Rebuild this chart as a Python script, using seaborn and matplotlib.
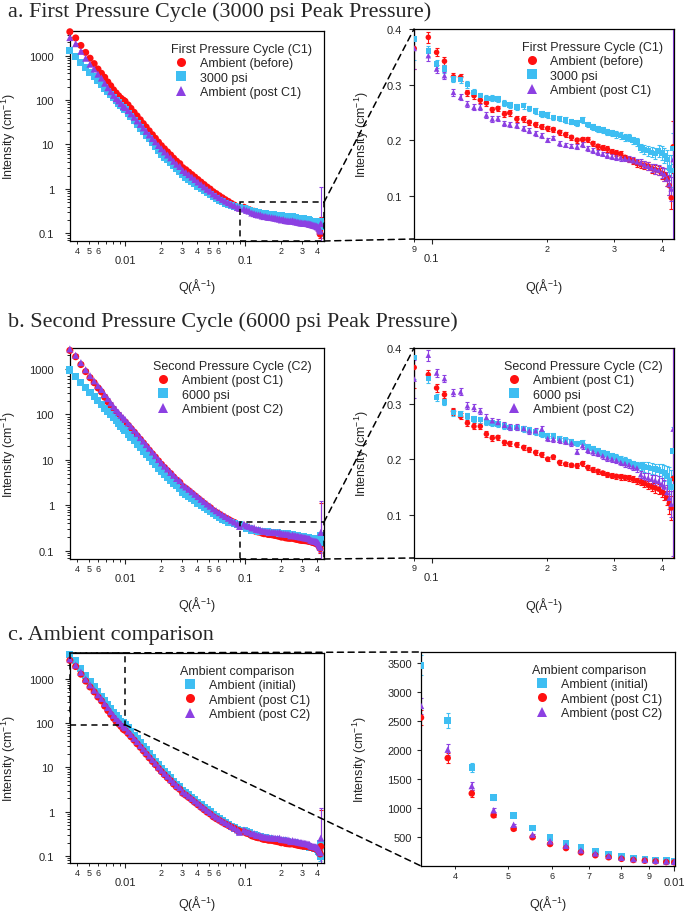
import numpy as np
import pandas as pd
import matplotlib
matplotlib.use("Agg")
import matplotlib.pyplot as plt
import seaborn as sns
from matplotlib.lines import Line2D
from matplotlib.patches import ConnectionPatch, Rectangle
from matplotlib.ticker import LogLocator, FuncFormatter, NullFormatter, MultipleLocator

# ---------------- data ----------------
q_low = [0.00347, 0.00388, 0.00429, 0.00470, 0.00511, 0.00553, 0.00595, 0.00636, 0.00677,
         0.00719, 0.00760, 0.00802, 0.00843, 0.00884, 0.00925, 0.00967, 0.0100]
q_mid = [0.0106, 0.0112, 0.0119, 0.0126, 0.0134, 0.0142, 0.0150, 0.0159, 0.0169, 0.0179,
         0.0190, 0.0201, 0.0213, 0.0226, 0.0240, 0.0254, 0.0269, 0.0286, 0.0303, 0.0321,
         0.0340, 0.0361, 0.0382, 0.0405, 0.0430, 0.0456, 0.0483, 0.0512, 0.0543, 0.0575,
         0.0610, 0.0647, 0.0685, 0.0727, 0.0770, 0.0817, 0.0866]
q_high = [0.090, 0.098, 0.103, 0.108, 0.114, 0.119, 0.124, 0.129, 0.134, 0.139,
          0.144, 0.149, 0.155, 0.160, 0.167, 0.174, 0.180, 0.187, 0.194, 0.201,
          0.208, 0.216, 0.224, 0.232, 0.240, 0.248, 0.256, 0.264, 0.272, 0.280,
          0.288, 0.296, 0.304, 0.312, 0.320, 0.328, 0.336, 0.344, 0.352, 0.360,
          0.368, 0.376, 0.384, 0.392, 0.400, 0.406, 0.412, 0.418, 0.423, 0.428]

I_before = [3460, 2510, 1700, 1185, 877, 663, 500, 401, 326, 256, 210, 170, 145, 125, 110, 100, 94,
            78, 65, 53, 44, 36, 29.5, 24.7, 20.3, 16.6, 13.8, 11.3, 9.4, 8.0, 6.8, 5.8, 4.9, 4.2, 3.7,
            3.0, 2.7, 2.38, 2.09, 1.84, 1.62, 1.42, 1.25, 1.10, 0.99, 0.86, 0.78, 0.70, 0.63, 0.57,
            0.52, 0.47, 0.43, 0.39,
            0.365, 0.385, 0.358, 0.342, 0.314, 0.313, 0.285, 0.280, 0.272, 0.267,
            0.255, 0.257, 0.247, 0.249, 0.238, 0.238, 0.232, 0.228, 0.224, 0.221,
            0.219, 0.214, 0.210, 0.205, 0.200, 0.201, 0.201, 0.194, 0.189, 0.186,
            0.184, 0.179, 0.177, 0.175, 0.169, 0.165, 0.163, 0.158, 0.156, 0.155,
            0.153, 0.149, 0.147, 0.145, 0.140, 0.138, 0.130, 0.118, 0.096, 0.188]
I_3000 = [1300, 940, 700, 540, 420, 335, 272, 225, 187, 158, 134, 115, 99, 86, 76, 67, 61,
          51, 42, 35, 29, 23.5, 19.5, 16.2, 13.4, 11.0, 9.0, 7.4, 6.1, 5.2, 4.5, 3.85, 3.3, 2.85,
          2.45, 2.1, 1.85, 1.65, 1.46, 1.3, 1.15, 1.02, 0.91, 0.81, 0.73, 0.66, 0.6, 0.55, 0.51,
          0.47, 0.44, 0.415, 0.395, 0.38,
          0.382, 0.360, 0.337, 0.328, 0.310, 0.309, 0.300, 0.286, 0.280, 0.275,
          0.275, 0.274, 0.266, 0.263, 0.260, 0.262, 0.257, 0.252, 0.247, 0.245,
          0.241, 0.239, 0.236, 0.233, 0.231, 0.236, 0.228, 0.224, 0.220, 0.218,
          0.215, 0.213, 0.210, 0.208, 0.205, 0.204, 0.200, 0.197, 0.186, 0.183,
          0.181, 0.178, 0.176, 0.180, 0.177, 0.172, 0.165, 0.150, 0.145, 0.185]
I_post_c1 = [2560, 1864, 1254, 877, 645, 500, 384, 314, 240, 190, 155, 128, 108, 96, 84, 72, 68,
             58, 49, 41, 34, 28.4, 23.6, 19.8, 16.4, 13.6, 11.5, 9.5, 8.0, 6.8, 5.8, 5.0, 4.2, 3.6,
             3.2, 2.6, 2.35, 2.09, 1.84, 1.62, 1.43, 1.26, 1.11, 0.98, 0.89, 0.77, 0.70, 0.64, 0.58,
             0.53, 0.49, 0.45, 0.42, 0.38,
             0.365, 0.352, 0.328, 0.316, 0.286, 0.277, 0.265, 0.259, 0.259, 0.245,
             0.238, 0.239, 0.230, 0.228, 0.226, 0.221, 0.217, 0.212, 0.208, 0.200,
             0.204, 0.194, 0.191, 0.189, 0.188, 0.192, 0.185, 0.181, 0.178, 0.175,
             0.172, 0.170, 0.169, 0.168, 0.167, 0.166, 0.164, 0.161, 0.159, 0.156,
             0.153, 0.150, 0.148, 0.146, 0.141, 0.138, 0.130, 0.120, 0.112, 0.165]
I_6000 = [950, 687, 514, 394, 309, 246, 199, 164, 137, 115, 98, 84, 72, 63, 55, 48.6, 44,
          37, 31.4, 26.3, 22.1, 18.4, 15.5, 13.2, 11.1, 9.2, 7.8, 6.5, 5.6, 4.8, 4.15, 3.6, 3.1,
          2.7, 2.3, 1.97, 1.76, 1.57, 1.40, 1.25, 1.12, 1.0, 0.89, 0.80, 0.72, 0.65, 0.59, 0.54,
          0.50, 0.46, 0.43, 0.41, 0.39, 0.375,
          0.383, 0.345, 0.311, 0.303, 0.284, 0.281, 0.278, 0.272, 0.271, 0.266,
          0.265, 0.263, 0.260, 0.257, 0.257, 0.254, 0.252, 0.249, 0.245, 0.242,
          0.242, 0.237, 0.234, 0.231, 0.228, 0.230, 0.222, 0.219, 0.215, 0.211,
          0.209, 0.206, 0.203, 0.200, 0.197, 0.194, 0.191, 0.188, 0.188, 0.186,
          0.185, 0.183, 0.182, 0.180, 0.178, 0.175, 0.170, 0.161, 0.150, 0.215]
I_post_c2 = [2763, 2009, 1382, 964, 715, 546, 430, 355, 275, 222, 180, 148, 125, 110, 96, 85, 78,
             65, 55, 45, 38, 31, 26, 21.7, 18.1, 14.9, 12.4, 10.2, 8.6, 7.3, 6.3, 5.3, 4.6, 3.9,
             3.5, 2.8, 2.54, 2.26, 1.99, 1.75, 1.56, 1.36, 1.21, 1.07, 0.96, 0.84, 0.76, 0.69, 0.62,
             0.57, 0.52, 0.47, 0.43, 0.39,
             0.344, 0.387, 0.355, 0.345, 0.320, 0.321, 0.296, 0.293, 0.287, 0.275,
             0.269, 0.266, 0.261, 0.258, 0.258, 0.255, 0.251, 0.251, 0.254, 0.237,
             0.236, 0.234, 0.231, 0.229, 0.213, 0.224, 0.216, 0.213, 0.210, 0.206,
             0.202, 0.200, 0.198, 0.194, 0.192, 0.190, 0.186, 0.184, 0.172, 0.168,
             0.166, 0.164, 0.162, 0.160, 0.155, 0.150, 0.140, 0.130, 0.119, 0.254]

# relative uncertainties (low-q and high-q segments), last point per data set
err_low = [0.05, 0.05, 0.045, 0.035, 0.03, 0.03, 0.03, 0.03, 0.03,
           0.03, 0.03, 0.03, 0.03, 0.03, 0.03, 0.03, 0.03]
err_high = [0.10, 0.025, 0.02, 0.02, 0.02, 0.02, 0.02, 0.02, 0.02, 0.02,
            0.02, 0.02, 0.02, 0.02, 0.02, 0.02, 0.02, 0.02, 0.02, 0.02,
            0.02, 0.02, 0.02, 0.02, 0.022, 0.022, 0.022, 0.024, 0.024, 0.025,
            0.025, 0.026, 0.027, 0.028, 0.03, 0.03, 0.032, 0.035, 0.04, 0.045,
            0.05, 0.05, 0.055, 0.06, 0.07, 0.08, 0.10, 0.15, 0.20, 0.25]
err_last = {'before': 0.25, '3000': 0.15, 'post_c1': 5.7, '6000': 0.2, 'post_c2': 3.8}

RED, BLUE, PURPLE = '#FF1010', '#3EBEF2', '#8C40E2'

datasets = {'before': I_before, '3000': I_3000, 'post_c1': I_post_c1,
            '6000': I_6000, 'post_c2': I_post_c2}

panels = [
    dict(title='a. First Pressure Cycle (3000 psi Peak Pressure)',
         legend='First Pressure Cycle (C1)',
         series=[('before', 'Ambient (before)', 'o', RED),
                 ('3000', '3000 psi', 's', BLUE),
                 ('post_c1', 'Ambient (post C1)', '^', PURPLE)],
         left_ylim=(0.067, 3600), zoom='high', box_top=0.5,
         posL=[70, 32, 324, 242], posR=[414, 30, 674, 240],
         legL=(0.398, 0.945), legR=(0.414, 0.945), title_y=12),
    dict(title='b. Second Pressure Cycle (6000 psi Peak Pressure)',
         legend='Second Pressure Cycle (C2)',
         series=[('post_c1', 'Ambient (post C1)', 'o', RED),
                 ('6000', '6000 psi', 's', BLUE),
                 ('post_c2', 'Ambient (post C2)', '^', PURPLE)],
         left_ylim=(0.066, 2900), zoom='high', box_top=0.43,
         posL=[70, 349, 324, 560], posR=[414, 349, 674, 559],
         legL=(0.327, 0.945), legR=(0.346, 0.945), title_y=322),
    dict(title='c. Ambient comparison',
         legend='Ambient comparison',
         series=[('before', 'Ambient (initial)', 's', BLUE),
                 ('post_c1', 'Ambient (post C1)', 'o', RED),
                 ('post_c2', 'Ambient (post C2)', '^', PURPLE)],
         left_ylim=(0.07, 3760), zoom='low', box_low=91,
         posL=[70, 654, 324, 864], posR=[421, 653, 675, 867],
         legL=(0.433, 0.945), legR=(0.438, 0.945), title_y=636),
]

# ---------------- style ----------------
sns.set_theme(style="ticks")
plt.rcParams['font.family'] = ['Liberation Sans', 'DejaVu Sans']
plt.rcParams['mathtext.fontset'] = 'custom'
plt.rcParams['mathtext.rm'] = 'Liberation Sans'
plt.rcParams['mathtext.it'] = 'Liberation Sans:italic'
plt.rcParams['axes.linewidth'] = 0.9
plt.rcParams['axes.edgecolor'] = 'black'

W, H = 685, 912
fig = plt.figure(figsize=(W / 100, H / 100), dpi=100)


def add_axes(p):
    x0, y0, x1, y1 = p
    return fig.add_axes([x0 / W, 1 - y1 / H, (x1 - x0) / W, (y1 - y0) / H])


n_low, n_mid = len(q_low), len(q_mid)
q_all = np.array(q_low + q_mid + q_high)


def draw_data(ax, series, size, clip=True):
    frames = []
    for key, label, marker, color in series:
        vals = np.asarray(datasets[key], dtype=float)
        for sl, rel in [(slice(0, n_low), err_low), (slice(n_low + n_mid, None), err_high)]:
            y = vals[sl]
            e = y * np.asarray(rel)
            if sl.start != 0:
                e[-1] = y[-1] * err_last[key]
            lower = np.minimum(e, 0.9 * y)
            ax.errorbar(q_all[sl], y, yerr=[lower, e], fmt='none', ecolor=color,
                        elinewidth=0.8, capsize=1.6, capthick=0.8, zorder=2)
        frames.append(pd.DataFrame({'q': q_all, 'I': vals, 'series': label}))
    df = pd.concat(frames, ignore_index=True)
    sns.scatterplot(data=df, x='q', y='I', hue='series', style='series',
                    palette={s[1]: s[3] for s in series},
                    markers={s[1]: s[2] for s in series},
                    s=size, linewidth=0, legend=False, ax=ax, zorder=3, clip_on=clip)


def log_fmt(minor_set):
    def major(x, pos):
        return f"{x:g}"

    def minor(x, pos):
        e = np.floor(np.log10(x) + 1e-9)
        m = int(round(x / 10 ** e))
        return str(m) if m in minor_set else ''
    return FuncFormatter(major), FuncFormatter(minor)


def style_log_x(ax, minor_set):
    ax.set_xscale('log')
    ax.xaxis.set_major_locator(LogLocator(base=10))
    ax.xaxis.set_minor_locator(LogLocator(base=10, subs=np.arange(2, 10)))
    fmaj, fmin = log_fmt(minor_set)
    ax.xaxis.set_major_formatter(fmaj)
    ax.xaxis.set_minor_formatter(fmin)
    ax.tick_params(axis='x', which='major', direction='out', length=3.6, width=0.8,
                   labelsize=8, pad=6.5)
    ax.tick_params(axis='x', which='minor', direction='out', length=2.4, width=0.7,
                   labelsize=6.5, pad=1.2)


def common(ax, ylab_x, xlab_y):
    for sp in ax.spines.values():
        sp.set_visible(True)
        sp.set_color('black')
        sp.set_linewidth(0.9)
    ax.set_xlabel('Q(Å$^{-1}$)', fontsize=9)
    ax.set_ylabel('Intensity (cm$^{-1}$)', fontsize=9)
    ax.xaxis.set_label_coords(0.5, xlab_y)
    ax.yaxis.set_label_coords(ylab_x, 0.5)
    ax.grid(False)


def add_legend(ax, p, anchor):
    handles = [Line2D([], [], ls='none', marker=m, color=c, markersize=6.5, markeredgewidth=0)
               for _, _, m, c in p['series']]
    labels = [s[1] for s in p['series']]
    leg = ax.legend(handles, labels, title=p['legend'], loc='upper left',
                    bbox_to_anchor=anchor, frameon=False, fontsize=9, title_fontsize=9,
                    alignment='left', handlelength=1.6, handletextpad=0.7,
                    labelspacing=0.2, borderpad=0, borderaxespad=0)
    leg.set_zorder(5)


dash = (0, (4, 3))

for p in panels:
    axL = add_axes(p['posL'])
    axR = add_axes(p['posR'])

    fig.text(8 / W, 1 - p['title_y'] / H, p['title'], fontsize=15.9,
             family=['Liberation Serif', 'DejaVu Serif'], va='center', ha='left')

    low_panel = p['zoom'] == 'low'

    # left overview
    draw_data(axL, p['series'], 26, clip=False)
    style_log_x(axL, {2, 3, 4, 5, 6})
    axL.set_xlim(0.00348, 0.455)
    axL.set_yscale('log')
    axL.set_ylim(*p['left_ylim'])
    axL.yaxis.set_major_locator(LogLocator(base=10))
    axL.yaxis.set_major_formatter(FuncFormatter(lambda v, pos: f"{v:g}"))
    axL.yaxis.set_minor_locator(LogLocator(base=10, subs=np.arange(2, 10)))
    axL.yaxis.set_minor_formatter(NullFormatter())
    axL.tick_params(axis='y', which='major', direction='out', length=3.6, width=0.8,
                    labelsize=8, pad=8)
    axL.tick_params(axis='y', which='minor', direction='out', length=2.2, width=0.7)
    common(axL, -0.205, -0.145 if low_panel else -0.165)
    add_legend(axL, p, p['legL'])

    # right zoom
    if not low_panel:
        draw_data(axR, p['series'], 16)
        style_log_x(axR, {2, 3, 4, 9})
        axR.set_xlim(0.0899, 0.43)
        axR.set_ylim(0.022, 0.4)
        axR.yaxis.set_major_locator(MultipleLocator(0.1))
        axR.yaxis.set_major_formatter(FuncFormatter(lambda v, pos: f"{v:.1f}"))
        axR.tick_params(axis='y', which='major', direction='out', length=3.6, width=0.8,
                        labelsize=8, pad=5)
        common(axR, -0.165, -0.175)
        add_legend(axR, p, p['legR'])

        x0, x1 = 0.09, axL.get_xlim()[1]
        y0, y1 = axL.get_ylim()[0], p['box_top']
        axL.add_patch(Rectangle((x0, y0), x1 - x0, y1 - y0, fill=False, ls=dash, lw=1.1,
                                ec='black', clip_on=False, zorder=6))
        for xyA, xyB in [((x1, y1), (0, 1)), ((x1, y0), (0, 0))]:
            fig.add_artist(ConnectionPatch(xyA=xyA, coordsA='data', axesA=axL, xyB=xyB,
                                           coordsB='axes fraction', axesB=axR,
                                           ls=dash, lw=1.1, color='black'))
    else:
        draw_data(axR, p['series'], 22)
        style_log_x(axR, {4, 5, 6, 7, 8, 9})
        axR.tick_params(axis='x', which='major', pad=4.5)
        axR.set_xlim(0.00347, 0.01003)
        axR.set_ylim(5, 3690)
        axR.yaxis.set_major_locator(MultipleLocator(500))
        axR.yaxis.set_major_formatter(FuncFormatter(lambda v, pos: f"{v:.0f}"))
        axR.tick_params(axis='y', which='major', direction='out', length=3, width=0.8,
                        labelsize=8, pad=3.5)
        common(axR, -0.205, -0.125)
        add_legend(axR, p, p['legR'])

        x0, x1 = axL.get_xlim()[0], 0.01
        y0, y1 = p['box_low'], axL.get_ylim()[1]
        axL.add_patch(Rectangle((x0, y0), x1 - x0, y1 - y0, fill=False, ls=dash, lw=1.1,
                                ec='black', clip_on=False, zorder=6))
        fig.add_artist(ConnectionPatch(xyA=(x0, y1), coordsA='data', axesA=axL, xyB=(0, 1),
                                       coordsB='axes fraction', axesB=axR,
                                       ls=dash, lw=1.1, color='black'))
        fig.add_artist(ConnectionPatch(xyA=(x1, y0), coordsA='data', axesA=axL, xyB=(0, 0),
                                       coordsB='axes fraction', axesB=axR,
                                       ls=dash, lw=1.1, color='black'))

fig.savefig('out.png', dpi=100)
